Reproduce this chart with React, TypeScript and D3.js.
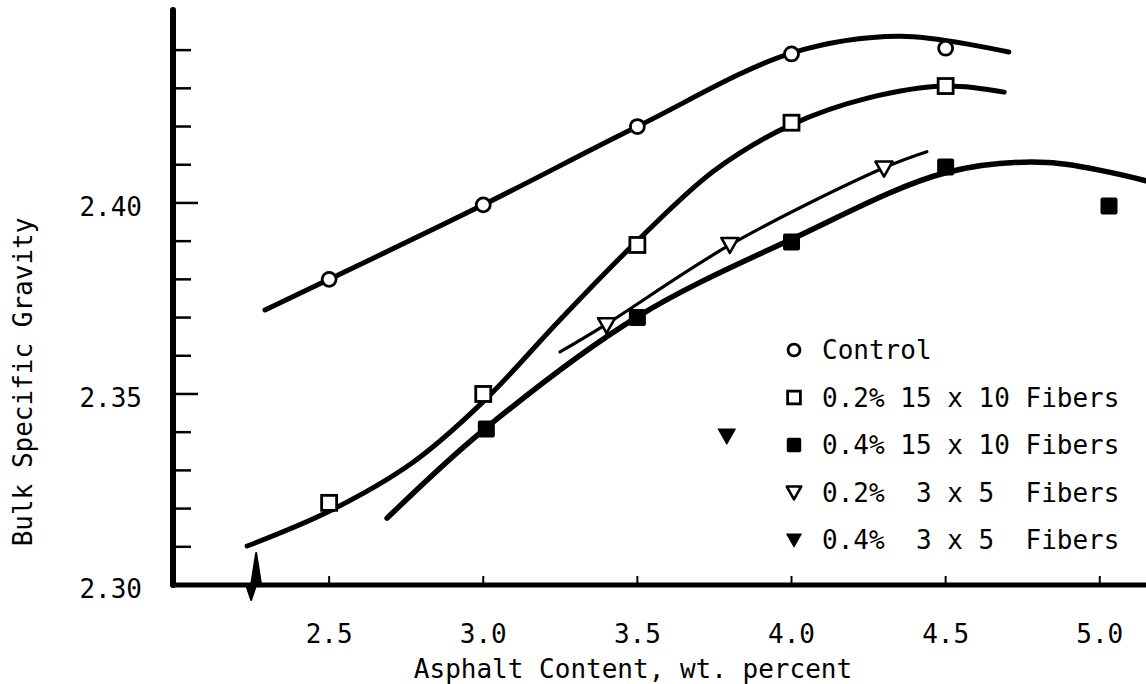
import React from "react";
import * as d3 from "d3";

// ---- data ----
const xTicks = [2.5, 3.0, 3.5, 4.0, 4.5, 5.0];
const xTickLabels = ["2.5", "3.0", "3.5", "4.0", "4.5", "5.0"];
const yMinorTicks = [2.31, 2.32, 2.33, 2.34, 2.36, 2.37, 2.38, 2.39, 2.41, 2.42, 2.43, 2.44];
const yMajorTicks = [2.30, 2.35, 2.40];
const yTickLabels = ["2.30", "2.35", "2.40"];

// markers
const controlX = [2.5, 3.0, 3.5, 4.0, 4.5];
const controlY = [2.380, 2.3995, 2.420, 2.439, 2.4405];
const f02_15x10X = [2.5, 3.0, 3.5, 4.0, 4.5];
const f02_15x10Y = [2.3215, 2.350, 2.389, 2.421, 2.4306];
const f04_15x10X = [3.01, 3.5, 4.0, 4.5, 5.03];
const f04_15x10Y = [2.3408, 2.370, 2.3898, 2.4094, 2.3992];
const f02_3x5X = [3.4, 3.8, 4.3];
const f02_3x5Y = [2.368, 2.389, 2.409];
const f04_3x5X = [3.79];
const f04_3x5Y = [2.339];

// hand-fitted curves
const controlCurveX = [2.292, 2.5, 3.0, 3.5, 4.0, 4.35, 4.705];
const controlCurveY = [2.372, 2.380, 2.3995, 2.420, 2.4392, 2.4436, 2.4395];
const f02_15x10CurveX = [2.234, 2.5, 2.77, 3.0, 3.25, 3.48, 3.75, 4.0, 4.25, 4.5, 4.69];
const f02_15x10CurveY = [2.3102, 2.3193, 2.332, 2.348, 2.3695, 2.3885, 2.4085, 2.4205, 2.4275, 2.4306, 2.429];
const f04_15x10CurveX = [2.688, 3.0, 3.5, 4.0, 4.5, 4.83, 5.15];
const f04_15x10CurveY = [2.3175, 2.3405, 2.3702, 2.3905, 2.4079, 2.4106, 2.4058];
const f02_3x5CurveX = [3.249, 3.4, 3.8, 4.3, 4.439];
const f02_3x5CurveY = [2.361, 2.3683, 2.389, 2.4092, 2.4134];

const legendLabels = [
  "Control",
  "0.2% 15 x 10 Fibers",
  "0.4% 15 x 10 Fibers",
  "0.2%  3 x 5  Fibers",
  "0.4%  3 x 5  Fibers",
];
const legendKinds = ["circle", "square", "filledSquare", "triangle", "filledTriangle"];

const W = 1146;
const H = 684;
const FONT = "'DejaVu Sans Mono', monospace";

const x = d3.scaleLinear().domain([2.0, 5.15]).range([175, 1146]);
const y = d3.scaleLinear().domain([2.30, 2.4505]).range([585, 10]);

const zip = (xs: number[], ys: number[]) => xs.map((v, i) => [v, ys[i]] as [number, number]);
const line = d3
  .line<[number, number]>()
  .x((d) => x(d[0]))
  .y((d) => y(d[1]))
  .curve(d3.curveCatmullRom.alpha(0.5));

function Marker({ kind, cx, cy, s = 1 }: { kind: string; cx: number; cy: number; s?: number }) {
  if (kind === "circle")
    return <circle cx={cx} cy={cy} r={7 * s} fill="#fff" stroke="#000" strokeWidth={2.8} />;
  if (kind === "square")
    return <rect x={cx - 7.5 * s} y={cy - 7.5 * s} width={15 * s} height={15 * s} fill="#fff" stroke="#000" strokeWidth={2.8} />;
  if (kind === "filledSquare")
    return <rect x={cx - 8.5 * s} y={cy - 8.5 * s} width={17 * s} height={17 * s} rx={2} fill="#000" />;
  const tri = d3.path();
  tri.moveTo(cx - 8.5 * s, cy - 7 * s);
  tri.lineTo(cx + 8.5 * s, cy - 7 * s);
  tri.lineTo(cx, cy + 8 * s);
  tri.closePath();
  if (kind === "triangle")
    return <path d={tri.toString()} fill="#fff" stroke="#000" strokeWidth={2.6} strokeLinejoin="round" />;
  return <path d={tri.toString()} fill="#000" stroke="#000" strokeWidth={1.2} strokeLinejoin="round" />;
}

export default function App() {
  const x0 = x(2.0) - 2;
  const y0 = y(2.30);
  const bx = x(2.26);
  return (
    <svg
      width={W}
      height={H}
      style={{ position: "absolute", left: 0, top: 0, background: "#fff" }}
      fontFamily={FONT}
    >
      <rect width={W} height={H} fill="#fff" />
      {/* curves */}
      <g fill="none" stroke="#000" strokeLinecap="round">
        <path d={line(zip(controlCurveX, controlCurveY)) || ""} strokeWidth={5} />
        <path d={line(zip(f02_15x10CurveX, f02_15x10CurveY)) || ""} strokeWidth={5} />
        <path d={line(zip(f04_15x10CurveX, f04_15x10CurveY)) || ""} strokeWidth={5.5} />
        <path d={line(zip(f02_3x5CurveX, f02_3x5CurveY)) || ""} strokeWidth={3.2} />
      </g>
      {/* axes */}
      <line x1={x0} y1={10} x2={x0} y2={y0} stroke="#000" strokeWidth={6} strokeLinecap="round" />
      <line x1={x0} y1={y0} x2={W} y2={y0} stroke="#000" strokeWidth={5} strokeLinecap="round" />
      {yMinorTicks.map((t) => (
        <line key={"m" + t} x1={x0} x2={x0 + 18} y1={y(t)} y2={y(t)} stroke="#000" strokeWidth={2.5} />
      ))}
      {yMajorTicks.slice(1).map((t) => (
        <line key={"M" + t} x1={x0} x2={x0 + 25} y1={y(t)} y2={y(t)} stroke="#000" strokeWidth={2.5} />
      ))}
      {yMajorTicks.map((t, i) => (
        <text key={"yl" + t} x={142} y={y(t) + 4} textAnchor="end" dominantBaseline="central" fontSize={26}>
          {yTickLabels[i]}
        </text>
      ))}
      {xTicks.map((t) => (
        <line key={"xt" + t} x1={x(t)} x2={x(t)} y1={y0} y2={y0 - 9} stroke="#000" strokeWidth={2} />
      ))}
      {xTicks.map((t, i) => (
        <text key={"xl" + t} x={x(t)} y={634} textAnchor="middle" dominantBaseline="central" fontSize={26}>
          {xTickLabels[i]}
        </text>
      ))}
      {/* axis break */}
      <path d={`M${bx - 4},${y0} L${bx + 1},${y0 - 32} L${bx + 6},${y0} Z`} fill="#000" stroke="#000" strokeWidth={2} strokeLinejoin="round" />
      <path d={`M${bx - 9},${y0} L${bx - 4},${y0 + 15} L${bx + 1},${y0} Z`} fill="#000" stroke="#000" strokeWidth={2} strokeLinejoin="round" />
      {/* axis titles */}
      <text x={633} y={669} textAnchor="middle" dominantBaseline="central" fontSize={26}>
        Asphalt Content, wt. percent
      </text>
      <text
        transform={`translate(23,382) rotate(-90)`}
        textAnchor="middle"
        dominantBaseline="central"
        fontSize={26}
      >
        Bulk Specific Gravity
      </text>
      {/* markers */}
      {zip(controlX, controlY).map((d, i) => (
        <Marker key={"c" + i} kind="circle" cx={x(d[0])} cy={y(d[1])} />
      ))}
      {zip(f02_15x10X, f02_15x10Y).map((d, i) => (
        <Marker key={"s" + i} kind="square" cx={x(d[0])} cy={y(d[1])} />
      ))}
      {zip(f04_15x10X, f04_15x10Y).map((d, i) => (
        <Marker key={"fs" + i} kind="filledSquare" cx={x(d[0])} cy={y(d[1])} />
      ))}
      {zip(f02_3x5X, f02_3x5Y).map((d, i) => (
        <Marker key={"t" + i} kind="triangle" cx={x(d[0])} cy={y(d[1])} />
      ))}
      {zip(f04_3x5X, f04_3x5Y).map((d, i) => (
        <Marker key={"ft" + i} kind="filledTriangle" cx={x(d[0])} cy={y(d[1])} />
      ))}
      {/* legend */}
      {legendLabels.map((lab, i) => {
        const cy = 350 + i * 47.5;
        return (
          <g key={"lg" + i}>
            <Marker kind={legendKinds[i]} cx={794} cy={cy} s={0.85} />
            <text x={822} y={cy} dominantBaseline="central" fontSize={26} style={{ whiteSpace: "pre" }} xmlSpace="preserve">
              {lab}
            </text>
          </g>
        );
      })}
    </svg>
  );
}
